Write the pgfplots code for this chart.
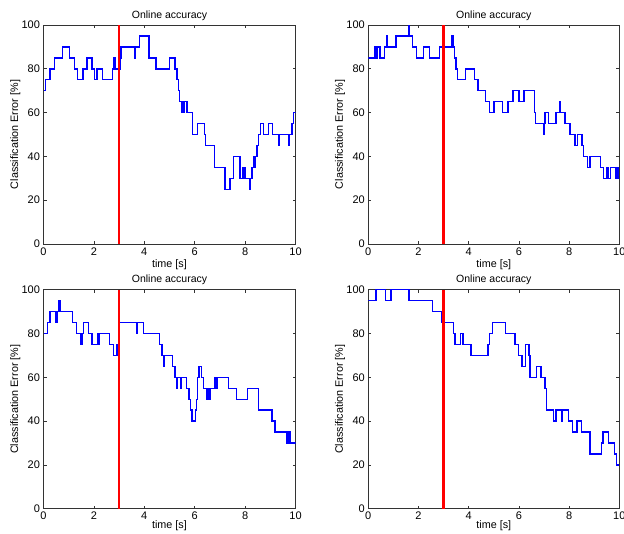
\documentclass[border=0pt]{standalone}
\usepackage{fontspec}
\setmainfont{Liberation Sans}
\usepackage{pgfplots}
\pgfplotsset{compat=1.18}

\pgfplotsset{
  onlineacc/.style={
    scale only axis, height=219pt,
    xmin=0, xmax=10, ymin=0, ymax=100,
    xtick={0,2,...,10}, ytick={0,20,...,100},
    tick align=inside, tick pos=both, major tick length=3pt,
    axis line style={black!80, line width=0.8pt},
    every tick/.style={black!80, line width=0.8pt},
    /pgf/number format/assume math mode=true,
    tick label style={font=\fontsize{11}{13}\selectfont},
    title={Online accuracy},
    title style={font=\fontsize{10.5}{12}\selectfont, at={(0.5,1)}, anchor=south, yshift=-5pt},
    xlabel={time [s]}, ylabel={Classification Error [\%]},
    label style={font=\fontsize{10.8}{13}\selectfont},
    x label style={at={(axis description cs:0.5,-0.096)}, anchor=center},
    y label style={at={(axis description cs:-0.112,0.5)}, anchor=center},
  },
  lowerrow/.style={x label style={at={(axis description cs:0.5,-0.078)}}},
  curve/.style={blue, line width=1.4pt, const plot},
  onset/.style={red, line width=2.6pt},
}

\begin{document}
\begin{tikzpicture}

% top left
\begin{axis}[onlineacc, width=252pt, at={(43.5pt,-244pt)}, anchor=south west]
\addplot[curve] coordinates {
(0,70)(0.09,75)(0.26,80)(0.44,85)(0.75,90)(1.04,85)(1.22,80)(1.35,75)(1.56,80)
(1.72,85)(1.93,80)(2.02,75)(2.13,80)(2.35,75)(2.74,80)(2.80,85)(2.83,80)(3.04,85)
(3.08,90)(3.60,85)(3.63,90)(3.81,95)(4.18,85)(4.47,80)(4.99,85)(5.22,80)(5.30,75)
(5.36,70)(5.40,65)(5.48,60)(5.52,65)(5.56,60)(5.60,65)(5.70,60)(5.91,50)(6.12,55)
(6.38,50)(6.43,45)(6.78,35)(7.20,25)(7.40,30)(7.53,40)(7.80,30)(7.90,35)(7.93,30)
(7.98,35)(8.02,30)(8.17,25)(8.20,30)(8.28,35)(8.36,40)(8.39,35)(8.42,40)(8.48,45)
(8.53,50)(8.60,55)(8.72,50)(8.92,55)(9.08,50)(9.32,45)(9.35,50)(9.74,45)(9.77,50)
(9.86,55)(9.92,60)(10,60)};
\addplot[onset] coordinates {(3,0)(3,100)};
\end{axis}

% top right
\begin{axis}[onlineacc, width=251pt, at={(368.3pt,-244pt)}, anchor=south west]
\addplot[curve] coordinates {
(0,85)(0.24,90)(0.30,85)(0.34,90)(0.47,85)(0.64,90)(0.72,95)(0.75,90)(1.11,95)
(1.59,100)(1.62,95)(1.77,90)(1.91,85)(2.20,90)(2.44,85)(2.84,90)(3.34,95)(3.37,90)
(3.44,85)(3.49,80)(3.56,75)(3.87,80)(4.22,75)(4.37,70)(4.67,65)(4.84,60)(5.01,65)
(5.35,60)(5.57,65)(5.77,70)(6.00,65)(6.21,70)(6.61,60)(6.67,55)(6.97,50)(7.00,55)
(7.04,60)(7.17,55)(7.47,60)(7.62,65)(7.66,60)(7.84,55)(8.04,50)(8.24,45)(8.33,50)
(8.51,45)(8.57,40)(8.73,35)(8.84,40)(9.24,35)(9.37,30)(9.51,35)(9.57,30)(9.64,35)
(9.87,30)(9.95,35)(9.97,30)(10,30)};
\addplot[onset] coordinates {(3,0)(3,100)};
\end{axis}

% bottom left
\begin{axis}[onlineacc, lowerrow, width=252pt, at={(43.5pt,-508.7pt)}, anchor=south west]
\addplot[curve] coordinates {
(0,80)(0.17,85)(0.26,90)(0.50,85)(0.53,90)(0.59,95)(0.66,90)(1.16,85)(1.30,80)
(1.49,75)(1.52,80)(1.59,85)(1.79,80)(1.92,75)(2.14,80)(2.20,75)(2.23,80)(2.62,75)
(2.78,70)(2.91,75)(3.02,85)(3.70,80)(3.73,85)(3.97,80)(4.60,75)(4.70,70)(4.78,65)
(4.81,70)(5.13,65)(5.22,60)(5.27,55)(5.29,60)(5.43,55)(5.45,60)(5.68,55)(5.78,50)
(5.84,45)(5.90,40)(6.04,45)(6.08,50)(6.12,60)(6.17,65)(6.28,60)(6.36,55)(6.46,50)
(6.48,55)(6.53,50)(6.55,55)(6.60,50)(6.63,55)(6.80,60)(6.84,55)(6.88,60)(7.33,55)
(7.67,50)(8.09,55)(8.53,45)(9.06,40)(9.19,35)(9.65,30)(9.70,35)(9.72,30)(9.78,35)
(9.80,30)(10,30)};
\addplot[onset] coordinates {(3,0)(3,100)};
\end{axis}

% bottom right
\begin{axis}[onlineacc, lowerrow, width=251pt, at={(368.3pt,-508.7pt)}, anchor=south west]
\addplot[curve] coordinates {
(0,95)(0.31,100)(0.69,95)(0.91,100)(1.62,95)(2.56,90)(2.91,85)(3.40,80)(3.46,75)
(3.67,80)(3.77,75)(4.09,70)(4.77,75)(4.84,80)(4.95,85)(5.47,80)(5.85,75)(5.98,70)
(6.13,65)(6.27,75)(6.40,70)(6.45,60)(6.71,65)(6.88,60)(7.04,55)(7.10,45)(7.37,40)
(7.48,45)(7.72,40)(7.74,45)(7.97,40)(8.13,35)(8.31,40)(8.49,35)(8.83,25)(9.30,30)
(9.35,35)(9.57,30)(9.80,25)(9.90,20)(10,20)};
\addplot[onset] coordinates {(3,0)(3,100)};
\end{axis}

\pgfresetboundingbox
\path[use as bounding box] (0,0) rectangle (624pt,-533pt);
\end{tikzpicture}
\end{document}
